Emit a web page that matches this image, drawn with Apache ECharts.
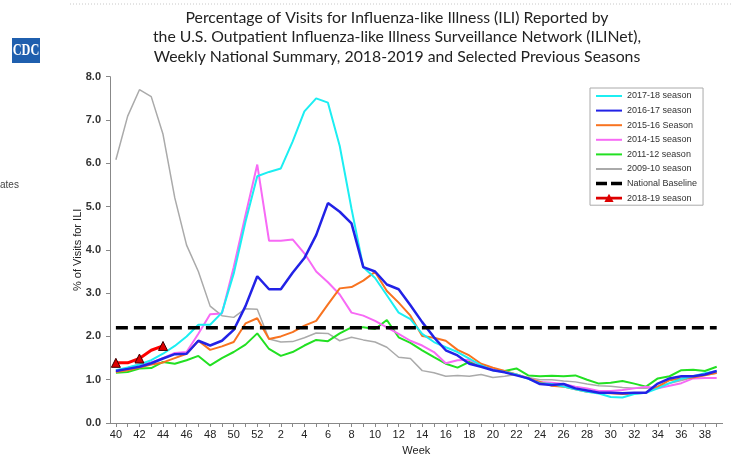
<!DOCTYPE html>
<html>
<head>
<meta charset="utf-8">
<script src="https://cdn.jsdelivr.net/npm/echarts@6/dist/echarts.min.js"></script>
<style>
html,body{margin:0;padding:0;background:#fff;}
#chart{width:733px;height:461px;}
</style>
</head>
<body>
<div id="chart"></div>
<script>
// Weeks (season runs week 40 through week 39 of following year)
const weeks = ['40','41','42','43','44','45','46','47','48','49','50','51','52',
  '1','2','3','4','5','6','7','8','9','10','11','12','13','14','15','16','17','18','19','20',
  '21','22','23','24','25','26','27','28','29','30','31','32','33','34','35','36','37','38','39'];

const yTicks = [0,1,2,3,4,5,6,7,8];

const s1718 = [1.22,1.28,1.35,1.45,1.6,1.78,2.0,2.27,2.27,2.55,3.45,4.65,5.7,
  5.8,5.88,6.5,7.2,7.5,7.4,6.4,4.95,3.6,3.35,2.95,2.55,2.4,2.06,1.87,1.75,1.64,1.49,1.33,1.22,
  1.18,1.12,1.02,0.92,0.9,0.84,0.78,0.72,0.68,0.6,0.59,0.67,0.7,0.8,0.92,1.02,1.08,1.15,1.2];

const s1617 = [1.2,1.25,1.3,1.38,1.49,1.59,1.6,1.9,1.79,1.9,2.15,2.7,3.39,
  3.09,3.09,3.47,3.81,4.34,5.08,4.88,4.61,3.6,3.5,3.2,3.09,2.72,2.33,1.98,1.68,1.56,1.37,1.3,1.22,
  1.17,1.1,1.03,0.9,0.88,0.9,0.8,0.75,0.7,0.7,0.69,0.7,0.7,0.91,1.03,1.08,1.08,1.12,1.2];

const s1516 = [1.18,1.22,1.28,1.35,1.4,1.5,1.6,1.9,1.69,1.77,1.87,2.3,2.42,
  1.94,2.0,2.1,2.25,2.36,2.74,3.11,3.14,3.29,3.49,3.05,2.78,2.48,2.01,1.97,1.9,1.69,1.56,1.37,1.28,
  1.2,1.12,1.03,0.95,0.86,0.84,0.78,0.72,0.7,0.69,0.67,0.68,0.7,0.84,0.99,1.03,1.05,1.1,1.16];

const s1415 = [1.18,1.27,1.35,1.4,1.5,1.62,1.64,2.06,2.51,2.53,3.6,4.8,5.97,
  4.21,4.21,4.24,3.92,3.5,3.25,2.97,2.55,2.48,2.36,2.21,2.06,1.9,1.79,1.64,1.38,1.45,1.46,1.33,1.25,
  1.18,1.12,1.03,0.95,0.93,0.9,0.84,0.8,0.74,0.74,0.76,0.8,0.84,0.8,0.86,0.92,1.03,1.04,1.04];

const s1112 = [1.16,1.18,1.26,1.27,1.41,1.37,1.45,1.55,1.33,1.5,1.64,1.81,2.07,
  1.71,1.55,1.64,1.79,1.92,1.89,2.07,2.21,2.21,2.17,2.38,1.98,1.85,1.68,1.52,1.37,1.28,1.41,1.33,1.22,
  1.2,1.26,1.1,1.08,1.09,1.08,1.1,1.0,0.91,0.93,0.97,0.91,0.84,1.03,1.08,1.22,1.23,1.2,1.3];

const s0910 = [6.08,7.09,7.7,7.54,6.67,5.2,4.11,3.5,2.7,2.48,2.44,2.64,2.63,
  1.94,1.87,1.88,1.97,2.08,2.07,1.9,1.98,1.92,1.87,1.75,1.52,1.49,1.21,1.16,1.08,1.1,1.08,1.12,1.05,
  1.08,1.12,1.05,1.0,1.0,0.97,0.95,0.9,0.86,0.85,0.82,0.8,0.8,0.84,0.92,0.98,1.05,1.1,1.15];

const s1819 = [1.39,1.39,1.49,1.68,1.78];

const nationalBaseline = 2.2;
const baselineData = weeks.map(() => nationalBaseline);

const chart = echarts.init(document.getElementById('chart'), null, {renderer:'canvas'});

function lineSeries(name, data, color, width, z) {
  return {
    name: name, type: 'line', data: data, symbol: 'none', showSymbol: false,
    lineStyle: {color: color, width: width}, itemStyle: {color: color},
    z: z, animation: false, silent: true
  };
}

// legend icons (26 x 10 box)
const iconSolid = 'path://M0,0M26,10M0,4h26v2h-26z';
const iconDash = 'path://M0,0M26,10M0,3.25h11v3.5h-11zM15,3.25h11v3.5h-11z';
const iconTri = 'path://M0,0M26,10M0,3.6h26v2.8h-26zM13,0.6L17.6,8.8L8.4,8.8z';

const option = {
  backgroundColor: '#ffffff',
  animation: false,
  title: {
    text: 'Percentage of Visits for Influenza-like Illness (ILI) Reported by\nthe U.S. Outpatient Influenza-like Illness Surveillance Network (ILINet),\nWeekly National Summary, 2018-2019 and Selected Previous Seasons',
    left: 392, top: 3, textAlign: 'center',
    textStyle: {fontFamily: 'Lato', fontSize: 15.8, fontWeight: 'normal', color: '#222', lineHeight: 19.5}
  },
  graphic: [
    {type: 'line', shape: {x1: 70, y1: 4, x2: 733, y2: 4}, style: {stroke: '#c8c8c8', lineWidth: 1, lineDash: [1, 2]}},
    {type: 'rect', shape: {x: 12, y: 38, width: 28, height: 25}, style: {fill: '#1f5fae'}},
    {type: 'text', x: 26, y: 51, scaleX: 0.72, style: {text: 'CDC', fill: '#ffffff', font: 'bold 17px "Liberation Serif"', align: 'center', verticalAlign: 'middle'}},
    {type: 'text', x: 0, y: 185, style: {text: 'ates', fill: '#444', font: '10px "Liberation Sans"', align: 'left', verticalAlign: 'middle'}}
  ],
  legend: {
    orient: 'vertical', left: 590, top: 88,
    padding: [3, 6, 2, 6],
    borderColor: '#aaaaaa', borderWidth: 1,
    itemWidth: 26, itemHeight: 10, itemGap: 4.6, itemTextGap: 2,
    textStyle: {fontFamily: 'Liberation Sans', fontSize: 9, color: '#333'},
    data: [
      {name: '2017-18 season', icon: iconSolid},
      {name: '2016-17 season', icon: iconSolid},
      {name: '2015-16 Season', icon: iconSolid},
      {name: '2014-15 season', icon: iconSolid},
      {name: '2011-12 season', icon: iconSolid},
      {name: '2009-10 season', icon: iconSolid},
      {name: 'National Baseline', icon: iconDash},
      {name: '2018-19 season', icon: iconTri, itemStyle: {borderWidth: 0}}
    ]
  },
  grid: {left: 110, top: 76.7, right: 10.4, bottom: 34.3, containLabel: false},
  xAxis: {
    type: 'category', data: weeks, boundaryGap: true,
    name: 'Week', nameLocation: 'middle', nameGap: 22, nameMoveOverlap: false,
    nameTextStyle: {fontFamily: 'Liberation Sans', fontSize: 11, color: '#222'},
    axisLine: {lineStyle: {color: '#888', width: 1}},
    axisTick: {show: true, interval: 0, alignWithLabel: true, length: 4, lineStyle: {color: '#888'}},
    axisLabel: {interval: 1, margin: 6, fontFamily: 'Liberation Sans', fontSize: 11, color: '#222'},
    splitLine: {show: false}
  },
  yAxis: {
    type: 'value', min: yTicks[0], max: yTicks[yTicks.length - 1], interval: 1,
    name: '% of Visits for ILI', nameLocation: 'middle', nameGap: 27, nameRotate: 90, nameMoveOverlap: false,
    nameTextStyle: {fontFamily: 'Liberation Sans', fontSize: 11, color: '#222'},
    axisLine: {show: true, lineStyle: {color: '#888', width: 1}},
    axisTick: {show: true, length: 4, lineStyle: {color: '#888'}},
    axisLabel: {margin: 9, fontFamily: 'Liberation Sans', fontSize: 11, fontWeight: 'bold', color: '#333', formatter: v => v.toFixed(1)},
    splitLine: {show: false}
  },
  series: [
    lineSeries('2009-10 season', s0910, '#aaaaaa', 1.5, 2),
    lineSeries('2011-12 season', s1112, '#22e022', 2, 3),
    lineSeries('2014-15 season', s1415, '#f76af5', 2, 4),
    lineSeries('2015-16 Season', s1516, '#f87320', 2, 5),
    lineSeries('2017-18 season', s1718, '#1ceef2', 2, 6),
    lineSeries('2016-17 season', s1617, '#2222e6', 2.5, 7),
    {
      name: 'National Baseline', type: 'line', data: baselineData, symbol: 'none', showSymbol: false,
      lineStyle: {color: '#000', width: 3.5, type: [12, 6]}, itemStyle: {color: '#000'}, z: 8, silent: true
    },
    {
      name: '2018-19 season', type: 'line', data: s1819, symbol: 'triangle', symbolSize: 9, showSymbol: true,
      lineStyle: {color: '#ff0000', width: 3}, itemStyle: {color: '#dd0000', borderColor: '#400000', borderWidth: 1},
      z: 9, silent: true
    }
  ]
};
chart.setOption(option);
</script>
</body>
</html>
